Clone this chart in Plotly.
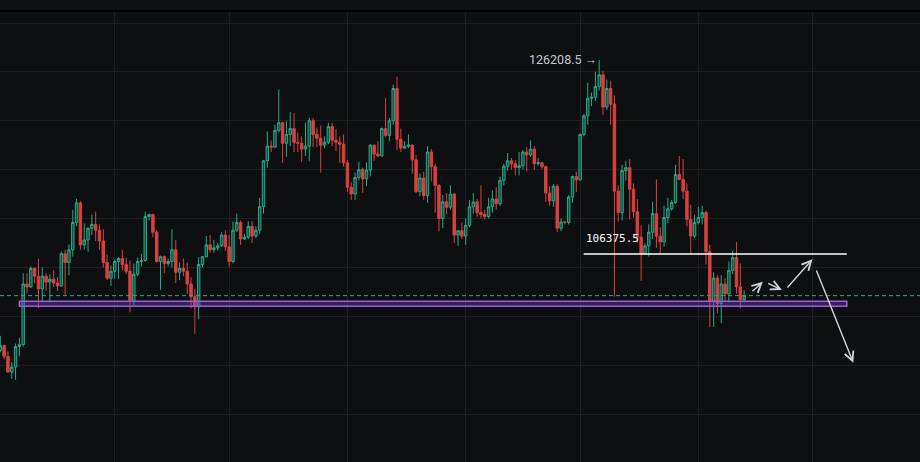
import pandas as pd
import plotly.graph_objects as go

# ---------------- data (daily candles) ----------------
start_date = "2025-05-02"

open_ = [96500, 97000, 95900, 94300, 94800, 96900, 97100, 103300, 103000, 104900,
         104100, 102800, 104100, 103500, 103800, 103400, 103100, 106400, 105500, 106800,
         109600, 111600, 107300, 107800, 109000, 109400, 108800, 107700, 105500, 103900,
         104600, 105600, 105900, 105300, 104600, 101600, 104300, 105600, 105700, 110200,
         110400, 108600, 105600, 106100, 105400, 105600, 106800, 104500, 104900, 104600,
         103300, 102000, 100950, 105300, 106100, 107300, 106800, 107000, 107200, 108300,
         107100, 105600, 108800, 109600, 107900, 108100, 109200, 108200, 108800, 111200,
         115900, 117400, 117300, 119000, 119800, 117700, 118600, 119200, 117800, 117700,
         117100, 117400, 120000, 118600, 118200, 117500, 117800, 119400, 118000, 117800,
         117600, 115700, 113200, 112500, 114200, 115000, 114050, 114950, 117500, 116600,
         116400, 119200, 118500, 120000, 123300, 118100, 117200, 117400, 117500, 116000,
         112750, 114150, 112350, 116800, 115300, 113400, 110000, 111700, 111150, 112500,
         108300, 108750, 108200, 109300, 111200, 111700, 110600, 110400, 110200, 111200,
         112000, 111500, 113900, 115350, 115900, 115600, 115200, 115400, 116800, 116500,
         117100, 115600, 115700, 115300, 112600, 111800, 113300, 109000, 109650, 109600,
         112200, 114300, 113950, 118600, 120500, 122300, 122400, 123500, 124700, 121400,
         123300, 121700, 112800, 110600, 114900, 115200, 113000, 110700, 108100, 106400,
         107200, 108600, 110500, 108200, 107600, 110100, 111000, 111650, 114500, 114000,
         112800, 109900, 108200, 109600, 110100, 110600, 106600, 101500, 103900, 101300,
         103300, 102300, 104700, 106000, 103000, 101700]

high = [98000, 97100, 96400, 95300, 97200, 97800, 104400, 104400, 105100, 105000,
        105900, 105000, 104400, 104300, 104700, 104000, 106600, 106800, 107350, 110900,
        112000, 111800, 109500, 109100, 110400, 110700, 109400, 108900, 106300, 105200,
        105800, 106050, 106800, 106000, 105700, 105400, 106000, 106400, 110700, 110500,
        110500, 108800, 106200, 106200, 105900, 108900, 107800, 105500, 105900, 105500,
        104000, 102800, 106050, 106100, 108200, 108300, 107800, 107500, 108600, 108800,
        108300, 109700, 110500, 109800, 108400, 109700, 109700, 109200, 112100, 116000,
        118900, 118000, 119600, 123200, 119900, 120000, 120900, 120800, 118800, 118400,
        119800, 120300, 120300, 119300, 119500, 118400, 119800, 119800, 119150, 118400,
        118600, 116000, 113700, 114700, 115800, 115200, 115750, 117600, 117600, 117900,
        119300, 122300, 120300, 123700, 124500, 119200, 117900, 118600, 117600, 116500,
        114600, 114800, 117400, 117100, 115600, 113500, 112400, 112600, 113400, 112600,
        108800, 109600, 110000, 111900, 112600, 112000, 113400, 110900, 112100, 112900,
        113200, 114300, 115600, 116700, 116200, 116000, 116800, 117000, 117300, 118000,
        117400, 116200, 115800, 115400, 113300, 113500, 113500, 110000, 109750, 112400,
        114400, 114800, 118700, 120700, 123900, 122900, 125000, 126208.5, 125100, 124200,
        124100, 122600, 113400, 115500, 115900, 116100, 113600, 112000, 109300, 107500,
        109400, 111700, 114000, 109100, 111300, 112100, 111900, 115500, 116400, 116100,
        113600, 111400, 110400, 111200, 111300, 110800, 107300, 104500, 104200, 104200,
        103900, 105600, 106700, 107600, 105400, 102650]

low = [96300, 95600, 94200, 93600, 93500, 95900, 96900, 102400, 102900, 103400,
       100800, 101400, 102650, 101400, 103000, 102600, 103000, 102100, 104200, 106100,
       109200, 106800, 106800, 106600, 108300, 107700, 106800, 105000, 103700, 103100,
       103800, 103800, 104700, 104300, 100400, 101100, 104100, 105100, 105600, 109800,
       108100, 105500, 102700, 104400, 105100, 105000, 103400, 103700, 104100, 102300,
       100800, 98200, 99700, 105000, 106000, 106500, 106500, 106700, 107100, 106700,
       105100, 105400, 108600, 107300, 107800, 107900, 107500, 108000, 108400, 110500,
       115200, 116800, 117200, 118800, 115700, 116300, 117400, 116800, 116800, 115800,
       116400, 115850, 117300, 117300, 114700, 117200, 117600, 117400, 116900, 115700,
       115300, 112700, 111900, 111900, 113900, 112600, 113300, 114300, 115900, 116300,
       116400, 118300, 117900, 119600, 117000, 116800, 117100, 117200, 114600, 112600,
       112300, 111900, 111600, 113800, 110600, 108700, 109000, 110450, 110900, 107500,
       107200, 107900, 107300, 109100, 110500, 110200, 110000, 109900, 110000, 110600,
       110900, 111300, 113400, 114900, 115000, 114400, 114400, 115000, 114800, 116300,
       115000, 115400, 115100, 111700, 111300, 111200, 108600, 108700, 109400, 109400,
       111600, 112700, 113900, 118400, 119600, 121500, 122000, 123100, 120600, 121100,
       119600, 102000, 109700, 109800, 113900, 109900, 110100, 107500, 103600, 106400,
       106100, 107900, 107000, 106400, 107100, 109500, 110800, 111500, 113900, 112000,
       109200, 106300, 108000, 109400, 109400, 105300, 98900, 98900, 100300, 99300,
       101600, 101400, 104300, 102300, 100800, 101500]

close = [97000, 95900, 94300, 94800, 96900, 97100, 103300, 103000, 104900, 104100,
         102800, 104100, 103500, 103800, 103400, 103100, 106400, 105500, 106800, 109600,
         111600, 107300, 107800, 109000, 109400, 108800, 107700, 105500, 103900, 104600,
         105600, 105900, 105300, 104600, 101600, 104300, 105600, 105700, 110200, 110400,
         108600, 105600, 106100, 105400, 105600, 106800, 104500, 104900, 104600, 103300,
         102000, 100950, 105300, 106100, 107300, 106800, 107000, 107200, 108300, 107100,
         105600, 108800, 109600, 107900, 108100, 109200, 108200, 108800, 111200, 115900,
         117400, 117300, 119000, 119800, 117700, 118600, 119200, 117800, 117700, 117100,
         117400, 120000, 118600, 118200, 117500, 117800, 119400, 118000, 117800, 117600,
         115700, 113200, 112500, 114200, 115000, 114050, 114950, 117500, 116600, 116400,
         119200, 118500, 120000, 123300, 118100, 117200, 117400, 117500, 116000, 112750,
         114150, 112350, 116800, 115300, 113400, 110000, 111700, 111150, 112500, 108300,
         108750, 108200, 109300, 111200, 111700, 110600, 110400, 110200, 111200, 112000,
         111500, 113900, 115350, 115900, 115600, 115200, 115400, 116800, 116500, 117100,
         115600, 115700, 115300, 112600, 111800, 113300, 109000, 109650, 109600, 112200,
         114300, 113950, 118600, 120500, 122300, 122400, 123500, 124700, 121400, 123300,
         121700, 112800, 110600, 114900, 115200, 113000, 110700, 108100, 106400, 107200,
         108600, 110500, 108200, 107600, 110100, 111000, 111650, 114500, 114000, 112800,
         109900, 108200, 109600, 110100, 110600, 106600, 101500, 103900, 101300, 103300,
         102300, 104700, 106000, 103000, 101700, 102100]

resistance_level = 106375.5
support_low, support_high = 101020, 101530
last_price = 102110

dates = pd.date_range(start_date, periods=len(open_), freq="D")

# ---------------- style ----------------
BG = "#0e0f11"
GRID = "#1e1f23"
GREEN = "#22ab8a"
GREEN_FILL = "#1a4d40"
RED = "#d9403f"
ARROW = "#d3d6dd"

fig = go.Figure(go.Candlestick(
    x=dates, open=open_, high=high, low=low, close=close,
    increasing=dict(line=dict(color=GREEN, width=1), fillcolor=GREEN_FILL),
    decreasing=dict(line=dict(color=RED, width=1), fillcolor=RED),
    whiskerwidth=0, hoverinfo="skip", showlegend=False,
))

fig.update_layout(
    width=920, height=462,
    margin=dict(l=0, r=0, t=11, b=0),
    paper_bgcolor=BG, plot_bgcolor=BG,
    boxgap=0.2, boxgroupgap=0.2,
    showlegend=False,
    xaxis=dict(type="date", range=["2025-05-01 22:06", "2025-12-29 02:24"],
               showgrid=True, gridcolor=GRID, gridwidth=1,
               dtick="M1", tick0="2025-01-01", showticklabels=False,
               zeroline=False, showline=False, ticks="",
               rangeslider=dict(visible=False)),
    yaxis=dict(range=[85090, 131228], showgrid=True, gridcolor=GRID, gridwidth=1,
               dtick=5000, tick0=0, showticklabels=False, zeroline=False,
               showline=False, ticks=""),
)

# top border
fig.add_shape(type="line", xref="paper", yref="paper", x0=0, x1=1, y0=1, y1=1,
              line=dict(color="#000000", width=2))
# last price dashed line
fig.add_shape(type="line", xref="paper", yref="y", x0=0, x1=1,
              y0=last_price, y1=last_price,
              line=dict(color=GREEN, width=1, dash="4px,3px"))
# support box
fig.add_shape(type="rect", xref="x", yref="y",
              x0="2025-05-07 00:00", x1="2025-12-09 22:00",
              y0=support_low, y1=support_high,
              line=dict(color="#9b5ce6", width=1.5),
              fillcolor="rgba(120,80,200,0.35)")
# resistance line
fig.add_shape(type="line", xref="x", yref="y",
              x0="2025-10-01 22:00", x1="2025-12-09 22:00",
              y0=resistance_level, y1=resistance_level,
              line=dict(color="#ffffff", width=1.5))

peak_i = high.index(max(high))
fig.add_annotation(x=dates[peak_i], y=high[peak_i], text=f"{high[peak_i]:.1f} →",
                   showarrow=False, xanchor="right", yanchor="middle",
                   xshift=0, yshift=1,
                   font=dict(family="Roboto", size=12.5, color="#c3c8d1"))
fig.add_annotation(x="2025-10-01 22:00", y=resistance_level, text=f"{resistance_level:.1f}",
                   showarrow=False, xanchor="left", yanchor="bottom",
                   xshift=0, yshift=7,
                   font=dict(family="DejaVu Sans Mono", size=11, color="#ffffff"))

# projected path arrows (tail -> head)
arrows = [
    (("2025-11-14 19:00", 102410), ("2025-11-17 21:30", 103530)),
    (("2025-11-18 21:30", 103430), ("2025-11-22 21:30", 102690)),
    (("2025-11-24 00:00", 102790), ("2025-11-30 21:30", 105830)),
    (("2025-12-01 19:00", 104830), ("2025-12-11 14:30", 95250)),
]
for (tx, ty), (hx, hy) in arrows:
    fig.add_annotation(x=hx, y=hy, ax=tx, ay=ty, xref="x", yref="y",
                       axref="x", ayref="y", text="", showarrow=True,
                       arrowhead=5, arrowsize=1.3, arrowwidth=1.4,
                       arrowcolor=ARROW, standoff=0, startstandoff=0)

page_fix = ("document.documentElement.style.margin='0';"
            "document.body.style.margin='0';document.body.style.padding='0';"
            "document.body.style.overflow='hidden';"
            "document.body.style.background='" + BG + "';")
fig.write_html("out.html", config={"displayModeBar": False}, post_script=page_fix)
